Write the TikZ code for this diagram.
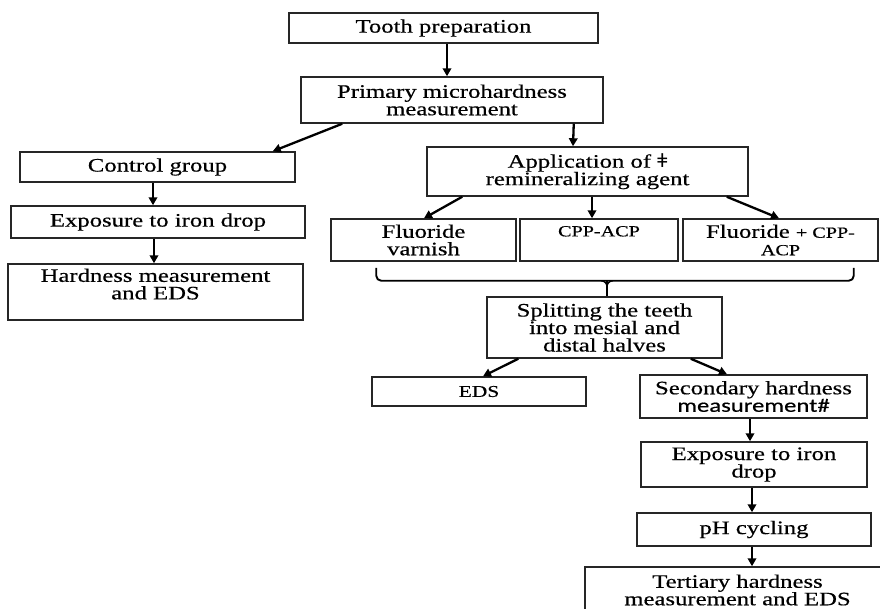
\documentclass[tikz,border=0pt]{standalone}
\usepackage{fontspec}
\setmainfont{Liberation Serif}[FakeStretch=1.3,FakeBold=0.5]
\setsansfont{Carlito}[FakeStretch=1.3,FakeBold=0.5]
\newfontfamily\djfont{DejaVu Serif}[FakeStretch=1.15]
\usetikzlibrary{arrows.meta,calc}
\newcommand{\smsz}{\fontsize{15.5}{17.5}\selectfont}
\begin{document}
\begin{tikzpicture}[x=1pt,y=-1pt,
  box/.style={draw=black!85,line width=1.5pt,inner sep=0pt,align=center,
    font=\fontsize{19}{17.5}\selectfont},
  arr/.style={draw=black,line width=2.3pt,-{Triangle[length=8pt,width=8.5pt]}},
  bracestyle/.style={draw=black,line width=1.9pt,rounded corners=5pt}]
\useasboundingbox (0,0) rectangle (880,608);
\clip (0,0) rectangle (880,608);
% boxes
\node[box,minimum width=309pt,minimum height=30pt] (tooth) at (443.5,28) {Tooth preparation};
\node[box,minimum width=302pt,minimum height=46pt] (primary) at (452,100) {Primary microhardness\\measurement};
\node[box,minimum width=275pt,minimum height=30pt] (control) at (157.5,167) {Control group};
\node[box,minimum width=294pt,minimum height=32pt] (expL) at (158,222) {Exposure to iron drop};
\node[box,minimum width=295pt,minimum height=56pt] (hardL) at (155.5,292) {Hardness measurement\\and EDS\\[-1.5pt]\mbox{}};
\node[box,minimum width=321pt,minimum height=49pt] (app) at (587.5,171.5) {Application of {\djfont ǂ}\\remineralizing agent};
\node[box,minimum width=185pt,minimum height=42pt] (fv) at (423.5,240) {Fluoride\\varnish};
\node[box,minimum width=158pt,minimum height=42pt] (cpp) at (599,240) {{\smsz CPP-ACP}\\\mbox{}};
\node[box,minimum width=195pt,minimum height=42pt] (fc) at (780.5,240) {Fluoride {\smsz + CPP-}\\{\smsz ACP}};
\node[box,minimum width=235pt,minimum height=61pt] (split) at (604.5,327.5) {Splitting the teeth\\into mesial and\\distal halves};
\node[box,minimum width=214pt,minimum height=29pt] (eds) at (479,391.5) {{\fontsize{16.5}{17.5}\selectfont EDS}};
\node[box,minimum width=227pt,minimum height=43pt] (sec) at (753.5,396.5) {Secondary hardness\\{\sffamily measurement\#}};
\node[box,minimum width=226pt,minimum height=45pt] (expR) at (754,464.5) {Exposure to iron\\drop};
\node[box,minimum width=234pt,minimum height=33pt] (ph) at (754,529.5) {pH cycling};
\node[box,minimum width=305pt,minimum height=46pt] (tert) at (737.5,590) {Tertiary hardness\\measurement and EDS};
% arrows
\draw[arr] ([xshift=3.5pt]tooth.south) -- ([xshift=-5pt]primary.north);
\draw[arr] ([xshift=42pt]primary.south west) -- ([xshift=-23pt]control.north east);
\draw[arr] ([xshift=-30pt]primary.south east) -- ([xshift=-14.5pt]app.north);
\draw[arr] ([xshift=-4.5pt]control.south) -- ([xshift=-5pt]expL.north);
\draw[arr] ([xshift=-4pt]expL.south) -- ([xshift=-1.5pt]hardL.north);
\draw[arr] ([xshift=36pt]app.south west) -- ([xshift=0.5pt]fv.north);
\draw[arr] ([xshift=4.5pt]app.south) -- ([xshift=-7pt]cpp.north);
\draw[arr] ([xshift=-22pt]app.south east) -- ([xshift=-1.5pt]fc.north);
% brace
\coordinate (bl) at ([xshift=46pt,yshift=-6pt]fv.south west);
\coordinate (br) at ([xshift=-25pt,yshift=-6pt]fc.south east);
\coordinate (bm) at ([yshift=-13pt]bl);
\coordinate (bc) at ([xshift=2.5pt]split.north);
\draw[bracestyle] (bl) |- (bc |- bm) -| (br);
\draw[draw=black,line width=1.3pt] ($(bc |- bm)+(-6,0)$) to[out=0,in=90] ($(bc |- bm)+(0,6)$) to[out=90,in=180] ($(bc |- bm)+(6,0)$);
\draw[draw=black,line width=2.4pt] (bc |- bm) -- (bc);
% lower arrows
\draw[arr] ([xshift=32pt]split.south west) -- ([xshift=4pt]eds.north);
\draw[arr] ([xshift=-32pt]split.south east) -- ([xshift=-26.5pt]sec.north);
\draw[arr] ([xshift=-3.5pt]sec.south) -- ([xshift=-4pt]expR.north);
\draw[arr] ([xshift=-2pt]expR.south) -- ([xshift=-2pt]ph.north);
\draw[arr] ([xshift=-2pt]ph.south) -- ([xshift=14.5pt]tert.north);
\end{tikzpicture}
\end{document}
